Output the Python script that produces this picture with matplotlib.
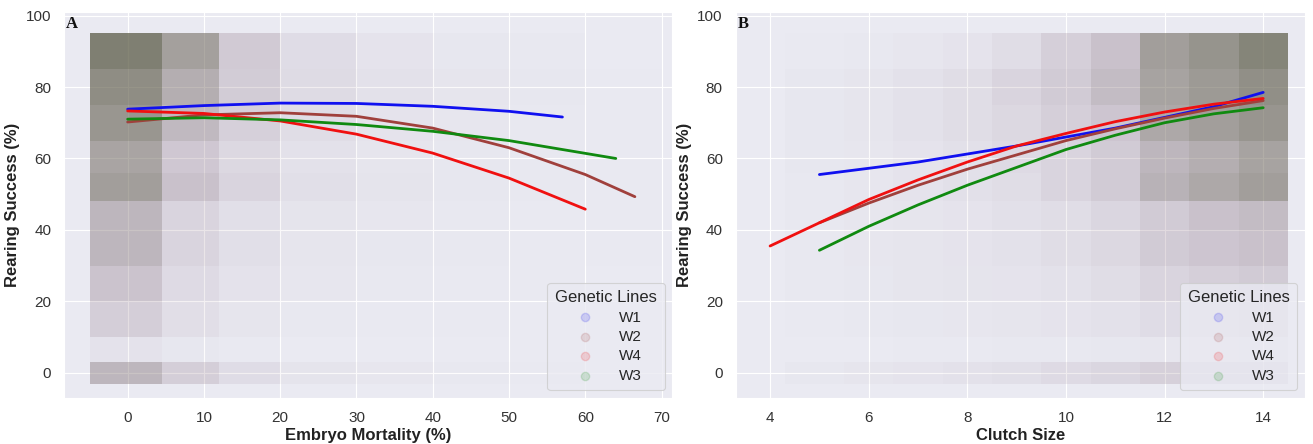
import numpy as np
import matplotlib
matplotlib.use('Agg')
import matplotlib.pyplot as plt
import seaborn as sns
from matplotlib.colors import LinearSegmentedColormap

sns.set_style('darkgrid')
plt.rcParams['font.family'] = ['Liberation Sans', 'DejaVu Sans']

lines = ['W1', 'W2', 'W4', 'W3']
line_colors = {'W1': '#1010f0', 'W2': '#a0403c', 'W4': '#f01010', 'W3': '#108a10'}

# fitted curves, panel A (embryo mortality)
a_x = {
    'W1': [0, 10, 20, 30, 40, 50, 57],
    'W2': [0, 10, 20, 30, 40, 50, 60, 66.5],
    'W4': [0, 10, 20, 30, 40, 50, 60],
    'W3': [0, 10, 20, 30, 40, 50, 64],
}
a_y = {
    'W1': [73.8, 74.8, 75.5, 75.4, 74.6, 73.2, 71.6],
    'W2': [70.2, 72.2, 72.8, 71.8, 68.5, 63.0, 55.5, 49.3],
    'W4': [73.3, 72.6, 70.5, 66.8, 61.5, 54.5, 45.8],
    'W3': [71.0, 71.4, 70.8, 69.5, 67.6, 65.0, 60.0],
}

# fitted curves, panel B (clutch size)
b_x = {
    'W1': [5, 7, 9, 11, 13, 14],
    'W2': [5, 6, 7, 8, 9, 10, 11, 12, 13, 14],
    'W4': [4, 5, 6, 7, 8, 9, 10, 11, 12, 13, 14],
    'W3': [5, 6, 7, 8, 9, 10, 11, 12, 13, 14],
}
b_y = {
    'W1': [55.5, 59.0, 63.5, 68.5, 74.5, 78.5],
    'W2': [42.0, 47.5, 52.5, 57.0, 61.0, 65.0, 68.3, 71.3, 74.0, 76.2],
    'W4': [35.5, 42.0, 48.5, 54.0, 59.0, 63.5, 67.0, 70.3, 73.0, 75.2, 76.8],
    'W3': [34.3, 41.0, 47.0, 52.5, 57.5, 62.5, 66.5, 70.0, 72.5, 74.2],
}

# point-cloud density (0 = empty, 1 = densest)
y_edges = [-3, 3, 10, 20, 30, 40, 48, 56, 65, 75, 85, 95]
a_x_edges = [-5, 4.5, 12, 20, 30, 40, 50, 60, 70]
a_density = [
    [0.50, 0.28, 0.14, 0.06, 0.04, 0.02, 0.01, 0.00],
    [0.08, 0.03, 0.01, 0.00, 0.00, 0.00, 0.00, 0.00],
    [0.28, 0.12, 0.05, 0.02, 0.01, 0.01, 0.00, 0.00],
    [0.38, 0.16, 0.08, 0.04, 0.02, 0.01, 0.01, 0.00],
    [0.50, 0.22, 0.11, 0.05, 0.03, 0.02, 0.01, 0.01],
    [0.50, 0.22, 0.11, 0.06, 0.04, 0.02, 0.01, 0.01],
    [0.72, 0.40, 0.22, 0.11, 0.06, 0.03, 0.02, 0.01],
    [0.66, 0.34, 0.18, 0.09, 0.05, 0.03, 0.02, 0.01],
    [0.80, 0.48, 0.26, 0.13, 0.07, 0.04, 0.02, 0.01],
    [0.88, 0.58, 0.30, 0.15, 0.09, 0.05, 0.03, 0.01],
    [1.00, 0.70, 0.32, 0.14, 0.07, 0.03, 0.02, 0.00],
]
b_x_edges = [4.3, 5.5, 6.5, 7.5, 8.5, 9.5, 10.5, 11.5, 12.5, 13.5, 14.5]
b_density = [
    [0.03, 0.05, 0.07, 0.09, 0.11, 0.16, 0.20, 0.26, 0.26, 0.26],
    [0.00, 0.00, 0.01, 0.01, 0.02, 0.02, 0.03, 0.04, 0.05, 0.06],
    [0.01, 0.02, 0.03, 0.04, 0.05, 0.07, 0.09, 0.14, 0.18, 0.22],
    [0.02, 0.03, 0.05, 0.06, 0.07, 0.09, 0.13, 0.22, 0.27, 0.31],
    [0.02, 0.04, 0.05, 0.07, 0.09, 0.13, 0.18, 0.31, 0.36, 0.40],
    [0.02, 0.04, 0.05, 0.07, 0.10, 0.13, 0.20, 0.31, 0.40, 0.45],
    [0.02, 0.04, 0.07, 0.10, 0.13, 0.22, 0.31, 0.54, 0.63, 0.72],
    [0.03, 0.04, 0.07, 0.10, 0.16, 0.22, 0.31, 0.50, 0.58, 0.67],
    [0.03, 0.05, 0.09, 0.13, 0.18, 0.27, 0.36, 0.63, 0.72, 0.81],
    [0.03, 0.05, 0.09, 0.13, 0.22, 0.31, 0.45, 0.67, 0.76, 0.86],
    [0.01, 0.02, 0.04, 0.07, 0.13, 0.27, 0.40, 0.72, 0.82, 0.95],
]

cloud = LinearSegmentedColormap.from_list(
    'cloud', [(0.58, 0.48, 0.55, 0.0), (0.55, 0.45, 0.52, 0.28),
              (0.45, 0.42, 0.38, 0.55), (0.36, 0.36, 0.28, 0.75)])

fig = plt.figure(figsize=(13.13, 4.44), dpi=100)
ax_a = fig.add_axes([0.049, 0.104, 0.463, 0.869])
ax_b = fig.add_axes([0.5606, 0.104, 0.4334, 0.869])


def draw_panel(ax, xe, dens, xs, ys, letter, xlabel):
    ax.pcolormesh(xe, y_edges, np.array(dens), cmap=cloud, vmin=0, vmax=1,
                  shading='flat', zorder=1, linewidth=0, antialiased=False)
    for name in lines:
        ax.plot(xs[name], ys[name], color=line_colors[name], lw=2, zorder=3)
        ax.scatter([], [], s=36, color=line_colors[name], alpha=0.15, label=name)
    ax.set_ylim(-7, 101)
    ax.set_yticks([0, 20, 40, 60, 80, 100])
    ax.set_xlabel(xlabel, fontsize=12, fontweight='bold', color='#222222', labelpad=2)
    ax.set_ylabel('Rearing Success (%)', fontsize=12, fontweight='bold', color='#222222', labelpad=4)
    ax.tick_params(labelsize=11, colors='#333333', pad=6)
    ax.text(0.003, 0.99, letter, transform=ax.transAxes, ha='left', va='top',
            fontsize=12, fontweight='bold', family='Liberation Serif', color='#111111')
    leg = ax.legend(title='Genetic Lines', loc='lower right', fontsize=11,
                    title_fontsize=12, frameon=True, facecolor='#EAEAF2',
                    edgecolor='#cccccc', framealpha=0.8, handletextpad=1.2,
                    borderpad=0.5, labelspacing=0.35)
    leg.get_frame().set_linewidth(0.8)


draw_panel(ax_a, a_x_edges, a_density, a_x, a_y, 'A', 'Embryo Mortality (%)')
ax_a.set_xlim(-8.3, 71.4)
ax_a.set_xticks(range(0, 71, 10))

draw_panel(ax_b, b_x_edges, b_density, b_x, b_y, 'B', 'Clutch Size')
ax_b.set_xlim(3.31, 14.85)
ax_b.set_xticks(range(4, 15, 2))

fig.savefig('out.png', dpi=100)
